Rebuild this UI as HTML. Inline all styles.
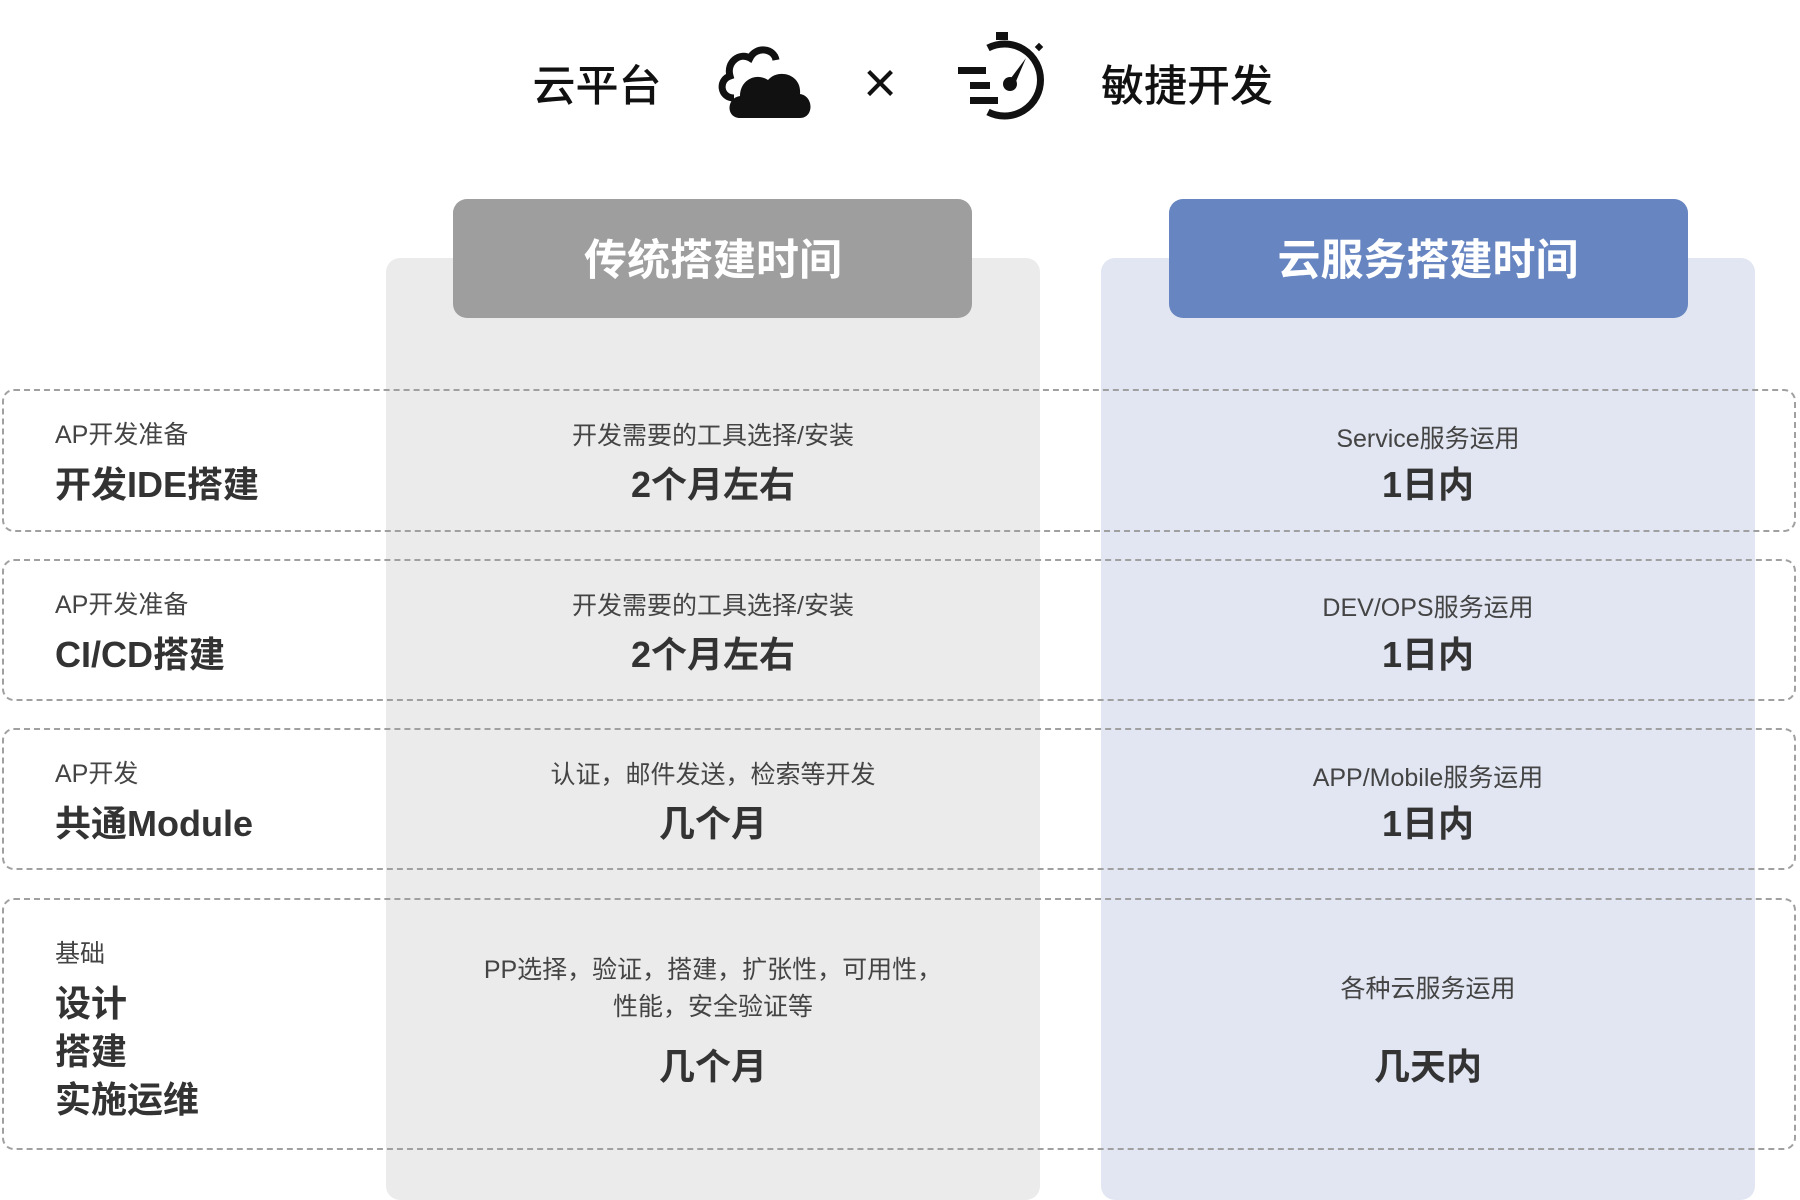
<!DOCTYPE html>
<html><head><meta charset="utf-8"><style>
body{margin:0;width:1800px;height:1200px;background:#fff;position:relative;overflow:hidden;font-family:"Liberation Sans","Noto Sans CJK SC",sans-serif;color:#333}
.a{position:absolute;white-space:nowrap}
.c{transform:translate(-50%,-50%)}
.l{transform:translateY(-50%)}
.s{font-size:25px;color:#444}
.b{font-size:36px;font-weight:bold;color:#333}
.row{position:absolute;left:2px;width:1794px;border:2px dashed #a0a0a0;border-radius:12px;box-sizing:border-box}
</style></head><body>
<div class="a" style="left:386px;top:258px;width:654px;height:942px;background:#ebebeb;border-radius:14px"></div>
<div class="a" style="left:1101px;top:258px;width:654px;height:942px;background:#e1e6f2;border-radius:14px"></div>
<div class="a" style="left:453px;top:199px;width:519px;height:119px;background:#9e9e9e;border-radius:14px"></div>
<div class="a" style="left:1169px;top:199px;width:519px;height:119px;background:#6785c1;border-radius:14px"></div>
<div class="a c" style="left:713px;top:257px;font-size:43px;font-weight:bold;color:#fff">传统搭建时间</div>
<div class="a c" style="left:1428px;top:257px;font-size:43px;font-weight:bold;color:#fff">云服务搭建时间</div>

<div class="a c" style="left:597px;top:83px;font-size:43px;font-weight:500;color:#111">云平台</div>
<svg class="a" style="left:712px;top:40px" width="108" height="80" viewBox="0 0 108 80">
<path d="M22 58 C8 58 6 40 18 36 C14 22 28 12 38 18 C44 6 62 8 64 20" fill="none" stroke="#111" stroke-width="7"/>
<path d="M28 78 C14 78 14 58 28 56 C28 40 44 32 56 40 C66 28 90 34 88 54 C102 56 102 78 88 78 Z" fill="#111"/>
</svg>
<div class="a c" style="left:880px;top:83px;font-size:58px;color:#111">×</div>
<svg class="a" style="left:958px;top:32px" width="94" height="92" viewBox="0 0 94 92">
<rect x="38" y="0" width="12" height="8" fill="#111"/>
<path d="M26 20 A36 36 0 1 1 26 84" fill="none" stroke="#111" stroke-width="7" transform="translate(4,-4)"/>
<rect x="0" y="35" width="28" height="7" fill="#111"/><rect x="12" y="50" width="20" height="7" fill="#111"/><rect x="12" y="65" width="28" height="7" fill="#111"/>
<circle cx="52" cy="52" r="7" fill="#111"/><path d="M50 50 L68 26 L56 54Z" fill="#111"/>
<rect x="78" y="12" width="6" height="6" fill="#111" transform="rotate(45 81 15)"/>
</svg>
<div class="a c" style="left:1187px;top:83px;font-size:43px;font-weight:500;color:#111">敏捷开发</div>

<div class="row" style="top:389px;height:143px"></div>
<div class="row" style="top:559px;height:142px"></div>
<div class="row" style="top:728px;height:142px"></div>
<div class="row" style="top:898px;height:252px"></div>

<div class="a l s" style="left:55px;top:433px">AP开发准备</div>
<div class="a l b" style="left:55px;top:482px">开发IDE搭建</div>
<div class="a c s" style="left:713px;top:434px">开发需要的工具选择/安装</div>
<div class="a c b" style="left:713px;top:482px">2个月左右</div>
<div class="a c s" style="left:1428px;top:437px">Service服务运用</div>
<div class="a c b" style="left:1428px;top:482px">1日内</div>

<div class="a l s" style="left:55px;top:603px">AP开发准备</div>
<div class="a l b" style="left:55px;top:652px">CI/CD搭建</div>
<div class="a c s" style="left:713px;top:604px">开发需要的工具选择/安装</div>
<div class="a c b" style="left:713px;top:652px">2个月左右</div>
<div class="a c s" style="left:1428px;top:606px">DEV/OPS服务运用</div>
<div class="a c b" style="left:1428px;top:652px">1日内</div>

<div class="a l s" style="left:55px;top:772px">AP开发</div>
<div class="a l b" style="left:55px;top:821px">共通Module</div>
<div class="a c s" style="left:713px;top:773px">认证，邮件发送，检索等开发</div>
<div class="a c b" style="left:713px;top:821px">几个月</div>
<div class="a c s" style="left:1428px;top:776px">APP/Mobile服务运用</div>
<div class="a c b" style="left:1428px;top:821px">1日内</div>

<div class="a l s" style="left:55px;top:952px">基础</div>
<div class="a l b" style="left:55px;top:1001px">设计</div>
<div class="a l b" style="left:55px;top:1049px">搭建</div>
<div class="a l b" style="left:55px;top:1097px">实施运维</div>
<div class="a c s" style="left:713px;top:968px">PP选择，验证，搭建，扩张性，可用性，</div>
<div class="a c s" style="left:713px;top:1005px">性能，安全验证等</div>
<div class="a c b" style="left:713px;top:1064px">几个月</div>
<div class="a c s" style="left:1428px;top:987px">各种云服务运用</div>
<div class="a c b" style="left:1428px;top:1064px">几天内</div>
</body></html>
